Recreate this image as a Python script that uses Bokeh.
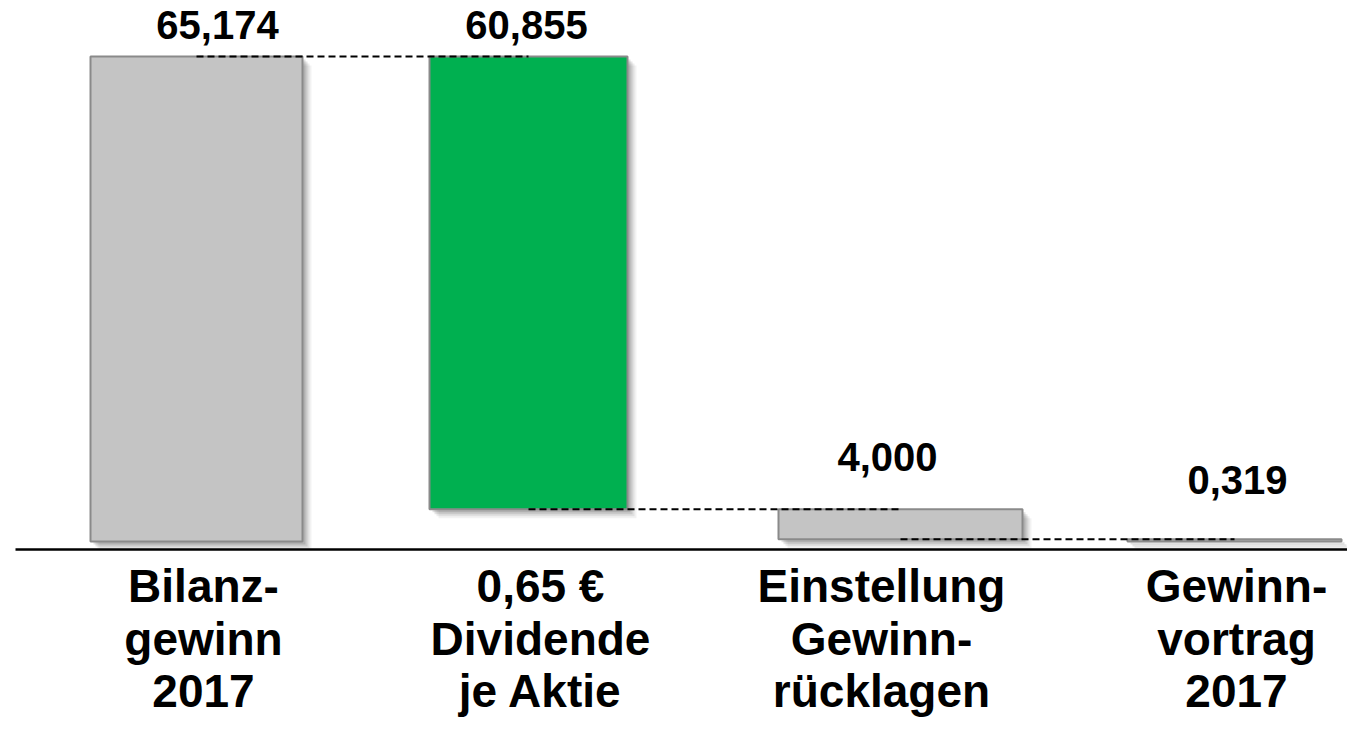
from bokeh.plotting import figure
from bokeh.models import Range1d, ColumnDataSource
from bokeh.core.properties import value
from bokeh.embed import file_html
from bokeh.resources import INLINE

# ---------------- data ----------------
category_lines = [
    ["Bilanz-", "gewinn", "2017"],
    ["0,65 €", "Dividende", "je Aktie"],
    ["Einstellung", "Gewinn-", "rücklagen"],
    ["Gewinn-", "vortrag", "2017"],
]
amounts = [65.174, 60.855, 4.000, 0.319]          # Mio. €
kinds = ["total", "minus", "minus", "total"]
bar_colors = ["#C4C4C4", "#00B050", "#C4C4C4", "#C4C4C4"]

# ---------------- layout (pixels) ----------------
W, H = 1347, 717
centers = [196, 528, 900, 1234]
widths = [212, 198, 244, 214]
label_dx = [21, -2, -13, 3]
label_gap = [16, 16, 36, 43]
cat_dx = [7, 12, -19, 2]
cat_baselines = [601, 654, 706]
TEXT_SHIFT = 16            # compensation for the text baseline rendering
BASE_PX, TOP_PX = 541, 56
AXIS_PX = 549

# waterfall geometry
tops, bottoms, levels = [], [], []
running = 0.0
for amt, kind in zip(amounts, kinds):
    if kind == "total":
        bottoms.append(0.0)
        tops.append(amt)
        running = amt
    else:
        tops.append(running)
        bottoms.append(running - amt)
        running = running - amt
    levels.append(running)

s = (BASE_PX - TOP_PX) / max(tops)          # pixels per unit
y_end = BASE_PX / s
y_start = -(H - BASE_PX) / s


def py(page_y):
    return (BASE_PX - page_y) / s


def dpx(n):
    return n / s


p = figure(width=W, height=H, x_range=Range1d(0, W), y_range=Range1d(y_start, y_end),
           toolbar_location=None, output_backend="svg", min_border=0)
p.xaxis.visible = False
p.yaxis.visible = False
p.grid.visible = False
p.outline_line_color = None
p.background_fill_color = "white"
p.border_fill_color = "white"

lefts = [c - w / 2 for c, w in zip(centers, widths)]
rights = [c + w / 2 for c, w in zip(centers, widths)]

# soft drop shadow
for k, a in [(9, 0.05), (7, 0.07), (5, 0.10), (3, 0.12)]:
    p.quad(left=[l + k for l in lefts], right=[r + k for r in rights],
           top=[t - dpx(k) for t in tops], bottom=[b - dpx(k) for b in bottoms],
           fill_color="black", fill_alpha=a, line_color=None)

src = ColumnDataSource(dict(left=lefts, right=rights, top=tops, bottom=bottoms, color=bar_colors))
p.quad(left="left", right="right", top="top", bottom="bottom", fill_color="color",
       line_color="#8A8A8A", line_width=2, source=src)

# connectors
p.segment(x0=centers[:-1], x1=centers[1:], y0=levels[:-1], y1=levels[:-1],
          line_color="black", line_width=2, line_dash="7 4")

# axis line
p.segment(x0=[15], x1=[W], y0=[py(AXIS_PX)], y1=[py(AXIS_PX)], line_color="black", line_width=2.5)

# value labels
vlabels = [f"{a:.3f}".replace(".", ",") for a in amounts]
p.text(x=[c + d for c, d in zip(centers, label_dx)],
       y=[t + dpx(g + TEXT_SHIFT) for t, g in zip(tops, label_gap)],
       text=vlabels, text_align="center", text_baseline="alphabetic",
       text_font=value("Liberation Sans"), text_font_style="bold", text_font_size="40px",
       text_color="black")

# category labels
xs, ys, ts = [], [], []
for c, d, lines in zip(centers, cat_dx, category_lines):
    for line, b in zip(lines, cat_baselines):
        xs.append(c + d)
        ys.append(py(b - TEXT_SHIFT))
        ts.append(line)
p.text(x=xs, y=ys, text=ts, text_align="center", text_baseline="alphabetic",
       text_font=value("Liberation Sans"), text_font_style="bold", text_font_size="46px",
       text_color="black")

open("out.html", "w").write(file_html(p, INLINE))
